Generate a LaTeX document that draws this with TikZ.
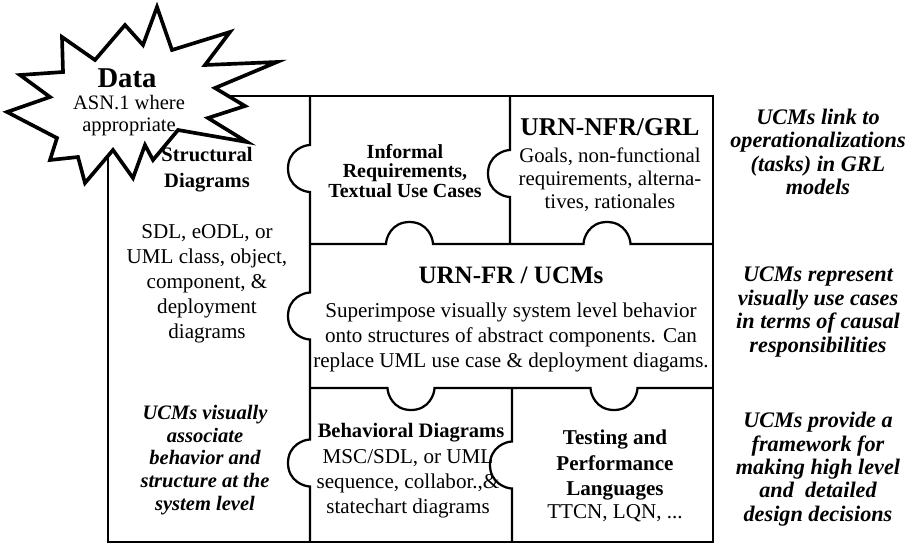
\documentclass[tikz,border=0pt]{standalone}
\usepackage{fontspec}
\setmainfont{Liberation Serif}
\usetikzlibrary{positioning}

% puzzle knobs: left, up, down
\newcommand{\knobL}[2]{-- (#1,#2-23.5) .. controls (#1-6,#2-23.5) and (#1-22,#2-18) .. (#1-22,#2) .. controls (#1-22,#2+18) and (#1-6,#2+23.5) .. (#1,#2+23.5)}
\newcommand{\knobU}[2]{-- (#1-23.5,#2) .. controls (#1-23.5,#2-6) and (#1-18,#2-22) .. (#1,#2-22) .. controls (#1+18,#2-22) and (#1+23.5,#2-6) .. (#1+23.5,#2)}
\newcommand{\knobD}[2]{-- (#1-23.5,#2) .. controls (#1-23.5,#2+6) and (#1-18,#2+22) .. (#1,#2+22) .. controls (#1+18,#2+22) and (#1+23.5,#2+6) .. (#1+23.5,#2)}

\begin{document}
\begin{tikzpicture}[
  x=0.025cm, y=-0.025cm,
  line width=1.6pt,
  font=\fontsize{15}{17.8}\selectfont,
  lbl/.style={align=center, inner sep=0pt},
  headtxt/.style={lbl, font=\bfseries\fontsize{14.6}{18.5}\selectfont},
  titlebig/.style={lbl, font=\bfseries\fontsize{17.8}{20}\selectfont},
  remark/.style={lbl, font=\bfseries\itshape\fontsize{15.8}{16.6}\selectfont}
]
\useasboundingbox (0,0) rectangle (906,548);

\draw (108,96) rectangle (713,542);
\draw (310,96) \knobL{310}{168.5} \knobL{310}{316} \knobL{310}{463} -- (310,542);
\draw (510,96) \knobL{510}{173.5} -- (510,244);
\draw (310,244) \knobU{409.5}{244} \knobU{607}{244} -- (713,244);
\draw (310,388) \knobD{411}{388} \knobD{614}{388} -- (713,388);
\draw (512,388) \knobL{512}{465} -- (512,542);

% explosion
\draw[line width=2.6pt, fill=white, line join=miter]
  (62,37) -- (95,60) -- (125,25) -- (143,45) -- (157,7) -- (172,50)
  -- (230,32) -- (205,65) -- (277,62) -- (215,88) -- (245,106)
  -- (208,118) -- (247,142) -- (178,130) -- (153,160) -- (145,145)
  -- (133,178) -- (113,150) -- (85,183) -- (78,157) -- (50,160)
  -- (57,138) -- (7,112) -- (50,97) -- (20,75) -- (63,72) -- cycle;

\node[lbl, font=\bfseries\fontsize{20.4}{24}\selectfont] (data) at (127,78) {Data};
\node[lbl, font=\fontsize{14.6}{15.6}\selectfont] (asn) at (129,116) {ASN.1 where\\appropriate};

\node[headtxt] (strtitle) at (207,170) {Structural\\Diagrams};
\node[lbl] (strbody) at (207,284) {SDL, eODL, or\\UML class, object,\\component, \&\\deployment\\diagrams};
\node[remark, font=\bfseries\itshape\fontsize{14.6}{16.2}\selectfont] (strnote) at (205,460)
  {UCMs visually\\associate\\behavior and\\structure at the\\system level};

\node[headtxt, font=\bfseries\fontsize{14.2}{13.9}\selectfont] (inftext) at (405,171)
  {Informal\\Requirements,\\Textual Use Cases};

\node[titlebig, font=\bfseries\fontsize{18.2}{20}\selectfont] (nfrtitle) at (610,127) {URN-NFR/GRL};
\node[lbl, font=\fontsize{14.8}{16.4}\selectfont] (nfrbody) at (610,180)
  {Goals, non-functional\\requirements, alterna-\\tives, rationales};

\node[titlebig] (frtitle) at (511,275) {URN-FR / UCMs};
\node[lbl] (frbody) at (511,337) {Superimpose visually system level behavior\\onto structures of abstract components. Can\\replace UML use case \& deployment diagams.};

\node[headtxt] (behtitle) at (411,433) {Behavioral Diagrams};
\node[lbl] (behbody) at (408,483.5) {MSC/SDL, or UML\\sequence, collabor.,\&\\statechart diagrams};

\node[headtxt, font=\bfseries\fontsize{15}{17.8}\selectfont] (testtitle) at (615,465) {Testing and\\Performance\\Languages};
\node[lbl] (testbody) at (615,513) {TTCN, LQN, ...};

\node[remark] (note1) at (818,152) {UCMs link to\\operationalizations\\(tasks) in GRL\\models};
\node[remark] (note2) at (818,312) {UCMs represent\\visually use cases\\in terms of causal\\responsibilities};
\node[remark] (note3) at (818,469) {UCMs provide a\\framework for\\making high level\\and~ detailed\\design decisions};

\end{tikzpicture}
\end{document}
